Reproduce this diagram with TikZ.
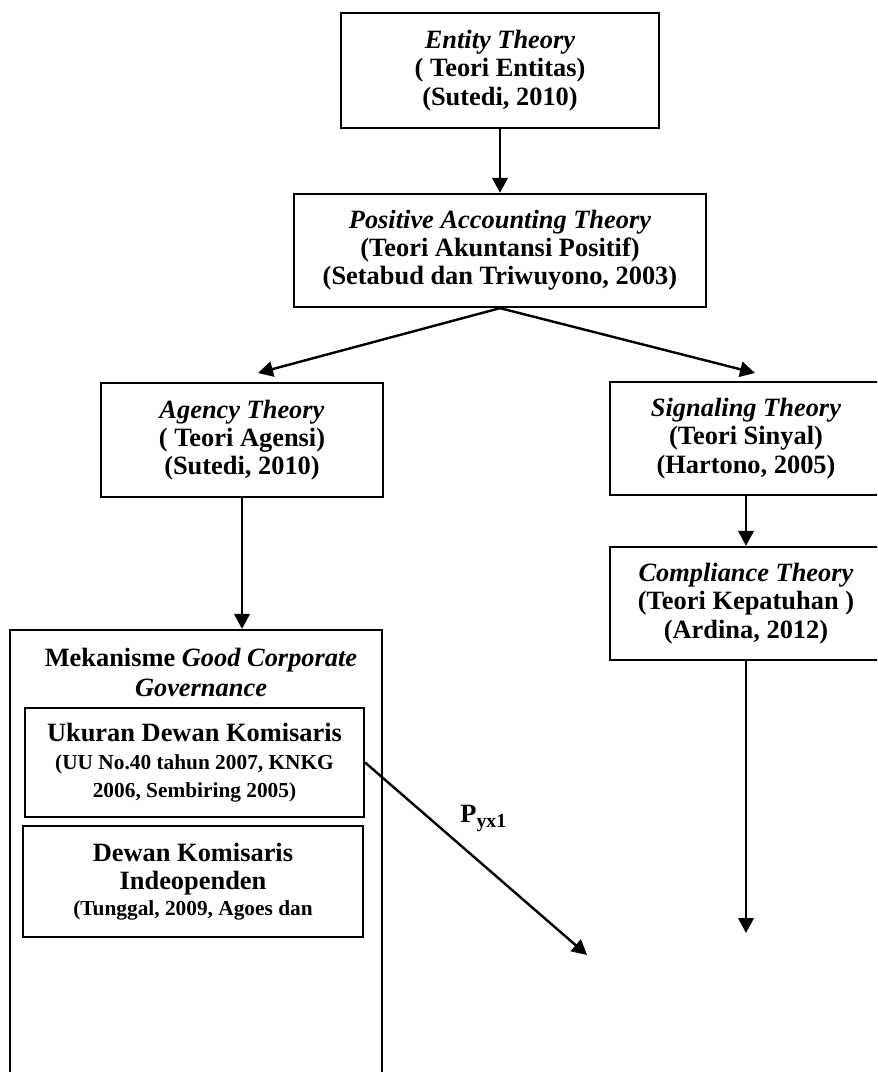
\documentclass[tikz,border=0pt]{standalone}
\usepackage{fontspec}
\setmainfont{Liberation Serif}
\usetikzlibrary{arrows.meta}
\newcommand{\smallref}{\fontsize{9.7}{11.6}\selectfont}
\begin{document}
\begin{tikzpicture}[x=0.4545pt,y=-0.4545pt,
  box/.style={draw, line width=1pt, align=center, inner sep=0pt,
    font=\fontsize{12}{12.8}\selectfont\bfseries},
  arr/.style={line width=1.1pt, -{Triangle[length=6.8pt,width=7pt]}},
  lbl/.style={font=\fontsize{12}{12}\selectfont\bfseries}
]
\useasboundingbox (0,0) rectangle (877,1072);
\clip (0,0) rectangle (877,1072);

\node[box, minimum width=144.5pt, minimum height=52.3pt] (ent) at (500,70.5)
  {\textit{Entity Theory}\\( Teori Entitas)\\(Sutedi, 2010)};
\node[box, minimum width=187.3pt, minimum height=51.4pt] (pat) at (500,250.5)
  {\textit{Positive Accounting Theory}\\(Teori Akuntansi Positif)\\(Setabud dan Triwuyono, 2003)};
\node[box, minimum width=128.2pt, minimum height=51.8pt] (ag) at (242,440)
  {\textit{Agency Theory}\\( Teori Agensi)\\(Sutedi, 2010)};
\node[box, minimum width=123.6pt, minimum height=51.4pt] (sig) at (746,438.5)
  {\textit{Signaling Theory}\\(Teori Sinyal)\\(Hartono, 2005)};
\node[box, minimum width=123.6pt, minimum height=51.4pt] (comp) at (746,603.5)
  {\textit{Compliance Theory}\\(Teori Kepatuhan )\\(Ardina, 2012)};

\node[box, minimum width=169.1pt, minimum height=213.6pt] (mek) at (196,865) {};
\node[lbl, align=center, anchor=north, font=\fontsize{12}{13.6}\selectfont\bfseries] (mekt) at (201,640)
  {Mekanisme \textit{Good Corporate}\\\textit{Governance}};

\node[box, minimum width=154.1pt, minimum height=49.5pt] (uk) at (194.5,762.5)
  {Ukuran Dewan Komisaris\\\smallref (UU No.40 tahun 2007, KNKG\\\smallref 2006, Sembiring 2005)};
\node[box, minimum width=154.5pt, minimum height=50.5pt] (dk) at (193,881.5)
  {Dewan Komisaris\\Indeopenden\\[-1pt]\smallref (Tunggal, 2009, Agoes dan};

\coordinate (tl) at (258,373);
\coordinate (tr) at (755,373);
\coordinate (tb) at (746,933);
\coordinate (td) at (587,955);

\draw[arr] (ent.south) -- (pat.north);
\draw[arr] (pat.south) -- (tl);
\draw[arr] (pat.south) -- (tr);
\draw[arr] (ag.south) -- (ag.south |- mek.north);
\draw[arr] (sig.south) -- (comp.north);
\draw[arr] (comp.south) -- (tb);
\draw[arr] (uk.east) -- (td);

\node[lbl, anchor=base west, inner sep=0pt] (p) at (460,822)
  {P\raisebox{-2.6pt}{\fontsize{9}{9}\selectfont yx1}};
\end{tikzpicture}
\end{document}
